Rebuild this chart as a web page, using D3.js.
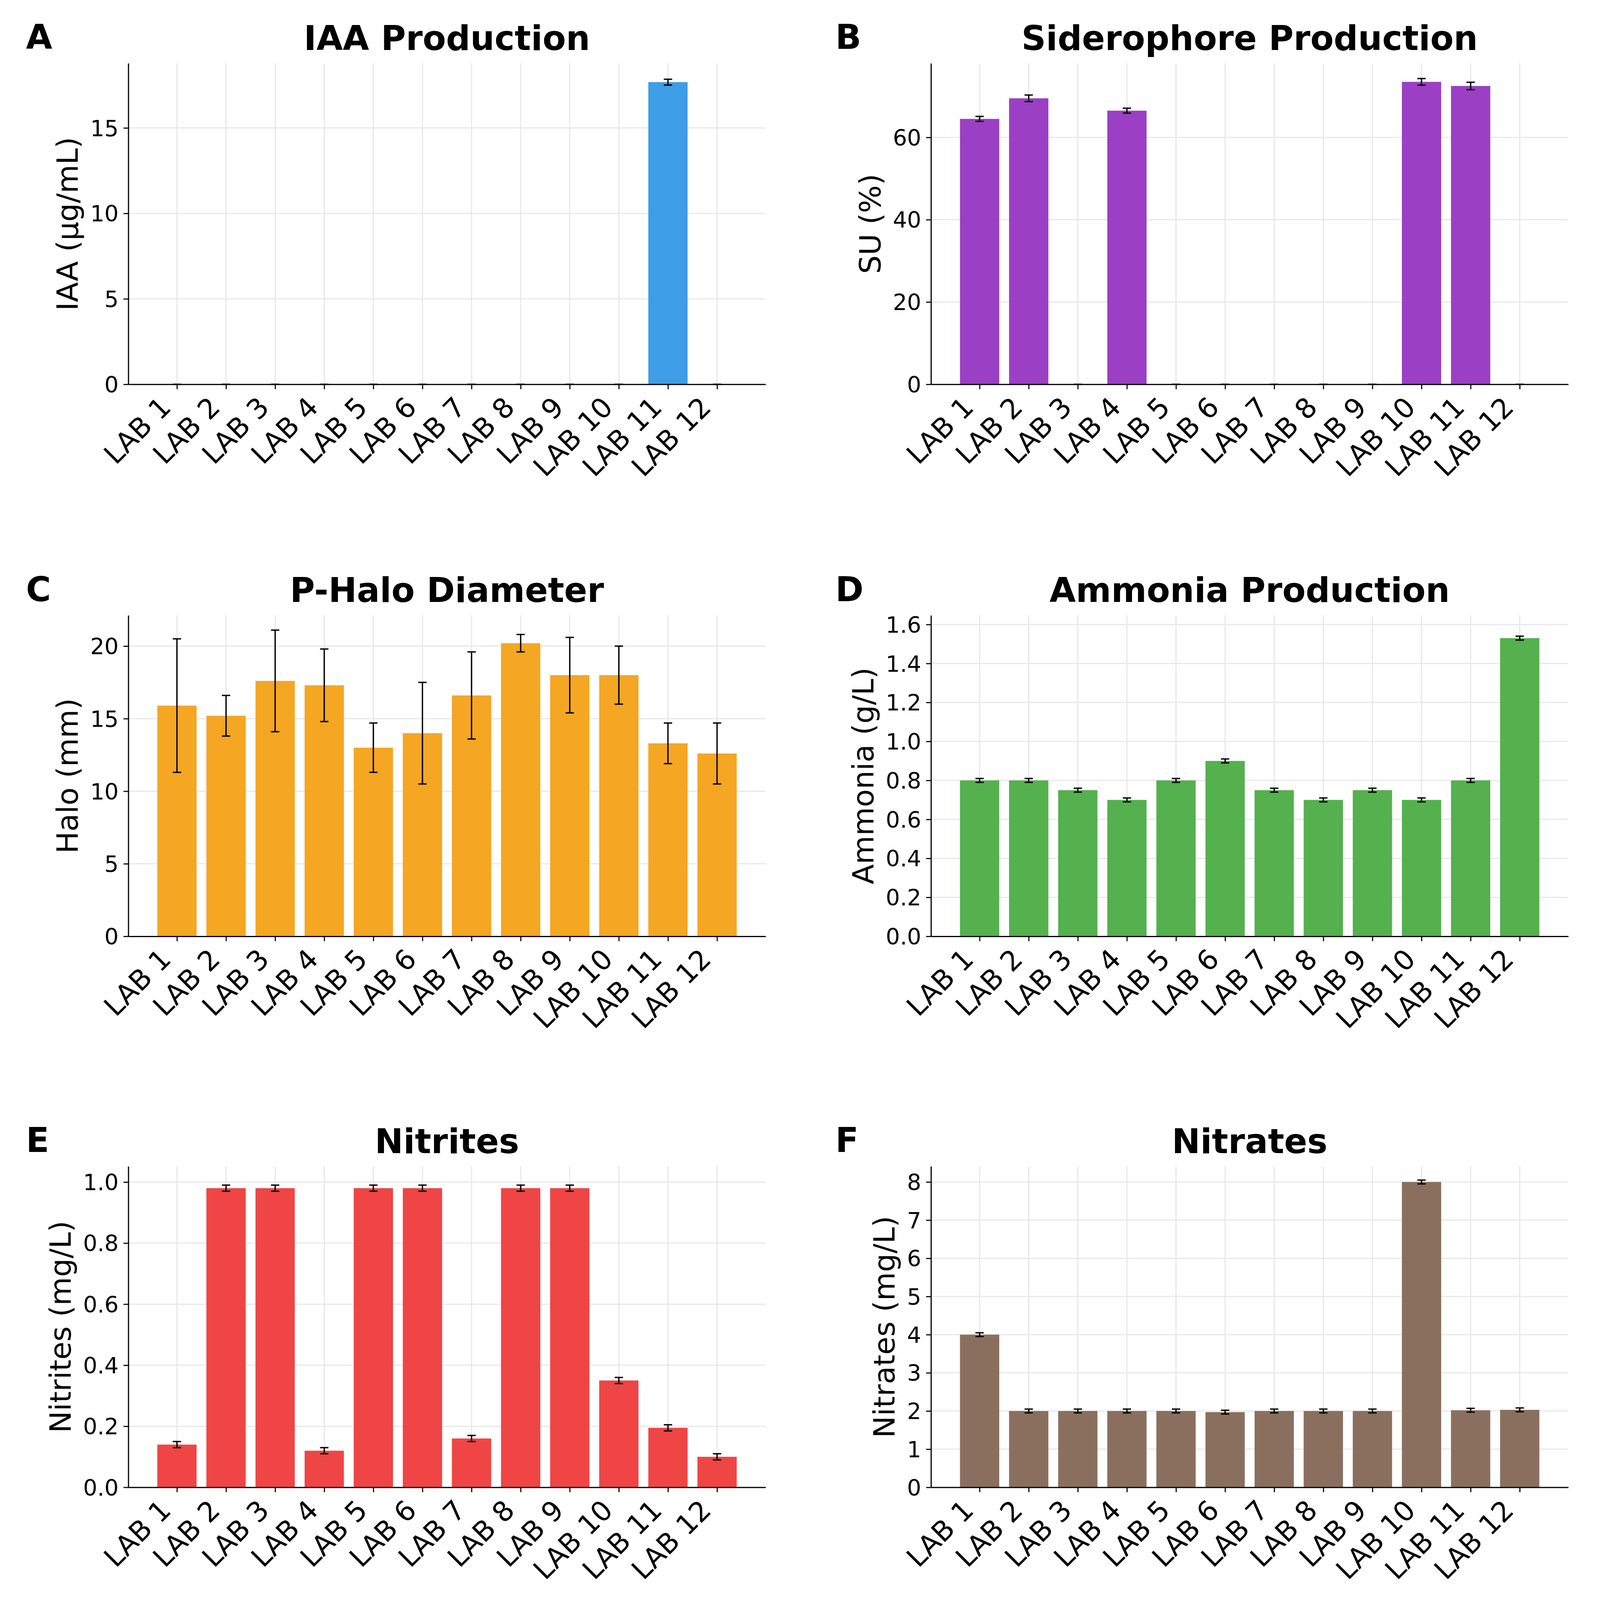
<!DOCTYPE html>
<html>
<head>
<meta charset="utf-8">
<script src="https://cdn.jsdelivr.net/npm/d3@7/dist/d3.min.js"></script>
<style>
  html, body { margin: 0; padding: 0; background: #fff; overflow: hidden; }
  svg { display: block; width: 100vw; height: 100vh; }
  text { font-family: "DejaVu Sans", sans-serif; }
</style>
</head>
<body>
<svg id="chart" viewBox="0 0 4800 4800" preserveAspectRatio="xMidYMid meet"></svg>
<script>
// strains on the x axis
var labs = ["LAB 1", "LAB 2", "LAB 3", "LAB 4", "LAB 5", "LAB 6",
            "LAB 7", "LAB 8", "LAB 9", "LAB 10", "LAB 11", "LAB 12"];

// values (mean, error)
var iaa = [0, 0, 0, 0, 0, 0, 0, 0, 0, 0, 17.68, 0];
var iaaErr = [0, 0, 0, 0, 0, 0, 0, 0, 0, 0, 0.17, 0];
var iaaTicks = [0, 5, 10, 15];

var sidero = [64.5, 69.5, 0, 66.5, 0, 0, 0, 0, 0, 73.5, 72.5, 0];
var sideroErr = [0.6, 0.8, 0, 0.6, 0, 0, 0, 0, 0, 0.8, 0.9, 0];
var sideroTicks = [0, 20, 40, 60];

var halo = [15.9, 15.2, 17.6, 17.3, 13.0, 14.0, 16.6, 20.2, 18.0, 18.0, 13.3, 12.6];
var haloErr = [4.6, 1.4, 3.5, 2.5, 1.7, 3.5, 3.0, 0.6, 2.6, 2.0, 1.4, 2.1];
var haloTicks = [0, 5, 10, 15, 20];

var ammonia = [0.80, 0.80, 0.75, 0.70, 0.80, 0.90, 0.75, 0.70, 0.75, 0.70, 0.80, 1.53];
var ammoniaErr = [0.01, 0.01, 0.01, 0.01, 0.01, 0.01, 0.01, 0.01, 0.01, 0.01, 0.01, 0.01];
var ammoniaTicks = [0, 0.2, 0.4, 0.6, 0.8, 1.0, 1.2, 1.4, 1.6];

var nitrites = [0.14, 0.98, 0.98, 0.12, 0.98, 0.98, 0.16, 0.98, 0.98, 0.35, 0.195, 0.10];
var nitritesErr = [0.01, 0.01, 0.01, 0.01, 0.01, 0.01, 0.01, 0.01, 0.01, 0.01, 0.01, 0.01];
var nitritesTicks = [0, 0.2, 0.4, 0.6, 0.8, 1.0];

var nitrates = [4.0, 2.0, 2.0, 2.0, 2.0, 1.97, 2.0, 2.0, 2.0, 8.0, 2.02, 2.03];
var nitratesErr = [0.05, 0.05, 0.05, 0.05, 0.05, 0.05, 0.05, 0.05, 0.05, 0.05, 0.05, 0.05];
var nitratesTicks = [0, 1, 2, 3, 4, 5, 6, 7, 8];

var panels = [
  {letter: "A", title: "IAA Production", ylabel: "IAA (µg/mL)", values: iaa, errors: iaaErr,
   ticks: iaaTicks, ymax: 18.78, color: "#3d9de6", fmt: d3.format("d")},
  {letter: "B", title: "Siderophore Production", ylabel: "SU (%)", values: sidero, errors: sideroErr,
   ticks: sideroTicks, ymax: 78.0, color: "#9b3fc4", fmt: d3.format("d")},
  {letter: "C", title: "P-Halo Diameter", ylabel: "Halo (mm)", values: halo, errors: haloErr,
   ticks: haloTicks, ymax: 22.12, color: "#f5a623", fmt: d3.format("d")},
  {letter: "D", title: "Ammonia Production", ylabel: "Ammonia (g/L)", values: ammonia, errors: ammoniaErr,
   ticks: ammoniaTicks, ymax: 1.647, color: "#54b14e", fmt: d3.format(".1f")},
  {letter: "E", title: "Nitrites", ylabel: "Nitrites (mg/L)", values: nitrites, errors: nitritesErr,
   ticks: nitritesTicks, ymax: 1.0515, color: "#ef4545", fmt: d3.format(".1f")},
  {letter: "F", title: "Nitrates", ylabel: "Nitrates (mg/L)", values: nitrates, errors: nitratesErr,
   ticks: nitratesTicks, ymax: 8.41, color: "#8b6f5e", fmt: d3.format("d")}
];

var svg = d3.select("#chart");
var colLeft = [385, 2793], rowTop = [190, 1846, 3499];
var letterX = [78, 2506];
var width = 1912, height = 963;
var tickLen = 14.6, tickPad = 14.6;
var xFont = 83, yFont = 67, labelFont = 88, titleFont = 102;

function drawPanel(p, i) {
  var col = i % 2, row = Math.floor(i / 2);
  var g = svg.append("g")
      .attr("transform", "translate(" + colLeft[col] + "," + rowTop[row] + ")");

  var x = d3.scaleLinear().domain([-0.99, 11.99]).range([0, width]);
  var y = d3.scaleLinear().domain([0, p.ymax]).range([height, 0]);

  // grid behind the bars
  g.append("g").selectAll("line")
    .data(d3.range(labs.length))
    .enter().append("line")
      .attr("x1", function(d) { return x(d); })
      .attr("x2", function(d) { return x(d); })
      .attr("y1", 0).attr("y2", height)
      .attr("stroke", "#e8e8e8").attr("stroke-width", 3.5);
  g.append("g").selectAll("line")
    .data(p.ticks)
    .enter().append("line")
      .attr("x1", 0).attr("x2", width)
      .attr("y1", function(d) { return y(d); })
      .attr("y2", function(d) { return y(d); })
      .attr("stroke", "#e8e8e8").attr("stroke-width", 3.5);

  g.selectAll(".bar")
    .data(p.values)
    .enter().append("rect")
      .attr("class", "bar")
      .attr("x", function(d, j) { return x(j - 0.4); })
      .attr("width", x(0.4) - x(-0.4))
      .attr("y", function(d) { return y(d); })
      .attr("height", function(d) { return height - y(d); })
      .attr("fill", p.color);

  // error bars with caps
  var eb = g.append("g").attr("stroke", "#000").attr("stroke-width", 4);
  p.values.forEach(function(v, j) {
    var e = p.errors[j], cx = x(j);
    eb.append("line").attr("x1", cx).attr("x2", cx)
      .attr("y1", y(v - e)).attr("y2", y(v + e));
    [v - e, v + e].forEach(function(c) {
      eb.append("line").attr("x1", cx - 12.5).attr("x2", cx + 12.5)
        .attr("y1", y(c)).attr("y2", y(c));
    });
  });

  // y axis
  var ya = g.append("g")
      .call(d3.axisLeft(y).tickValues(p.ticks).tickFormat(p.fmt)
        .tickSize(tickLen).tickPadding(tickPad).tickSizeOuter(0));
  ya.attr("font-size", yFont).attr("font-family", "DejaVu Sans");
  ya.selectAll("text").attr("dy", "0.36em").attr("fill", "#000");
  ya.selectAll("line").attr("stroke-width", 3.3).attr("stroke", "#000");
  ya.select(".domain").attr("stroke-width", 3.5).attr("stroke", "#000");

  var maxW = 0;
  ya.selectAll("text").each(function() { maxW = Math.max(maxW, this.getBBox().width); });

  // x axis with 45 degree labels, right edge at the tick
  var xa = g.append("g")
      .attr("transform", "translate(0," + height + ")")
      .call(d3.axisBottom(x).tickValues(d3.range(labs.length))
        .tickFormat(function(j) { return labs[j]; })
        .tickSize(tickLen).tickSizeOuter(0));
  xa.attr("font-size", xFont).attr("font-family", "DejaVu Sans");
  xa.selectAll("line").attr("stroke-width", 3.3).attr("stroke", "#000");
  xa.select(".domain").attr("stroke-width", 3.5).attr("stroke", "#000");
  xa.selectAll("text")
    .attr("text-anchor", "start").attr("fill", "#000")
    .attr("y", null).attr("dy", null)
    .attr("transform", function() {
      var w = this.getComputedTextLength();
      var a = 0.76 * xFont, dd = 0.236 * xFont;
      var ox = -0.7071 * (w + dd);
      var oy = tickLen + tickPad + 0.7071 * (w + a);
      return "translate(" + ox + "," + oy + ") rotate(-45)";
    });

  // y label
  g.append("text")
    .attr("transform", "translate(" + (-(tickLen + tickPad + maxW + 16.7 + 0.236 * labelFont)) +
          "," + (height / 2) + ") rotate(-90)")
    .attr("text-anchor", "middle")
    .attr("font-size", labelFont)
    .text(p.ylabel);

  // title
  g.append("text")
    .attr("x", width / 2).attr("y", -40)
    .attr("text-anchor", "middle")
    .attr("font-size", titleFont)
    .attr("font-weight", "bold")
    .text(p.title);

  // panel letter
  svg.append("text")
    .attr("x", letterX[col]).attr("y", rowTop[row] - 43)
    .attr("font-size", titleFont)
    .attr("font-weight", "bold")
    .text(p.letter);
}

panels.forEach(drawPanel);
</script>
</body>
</html>
